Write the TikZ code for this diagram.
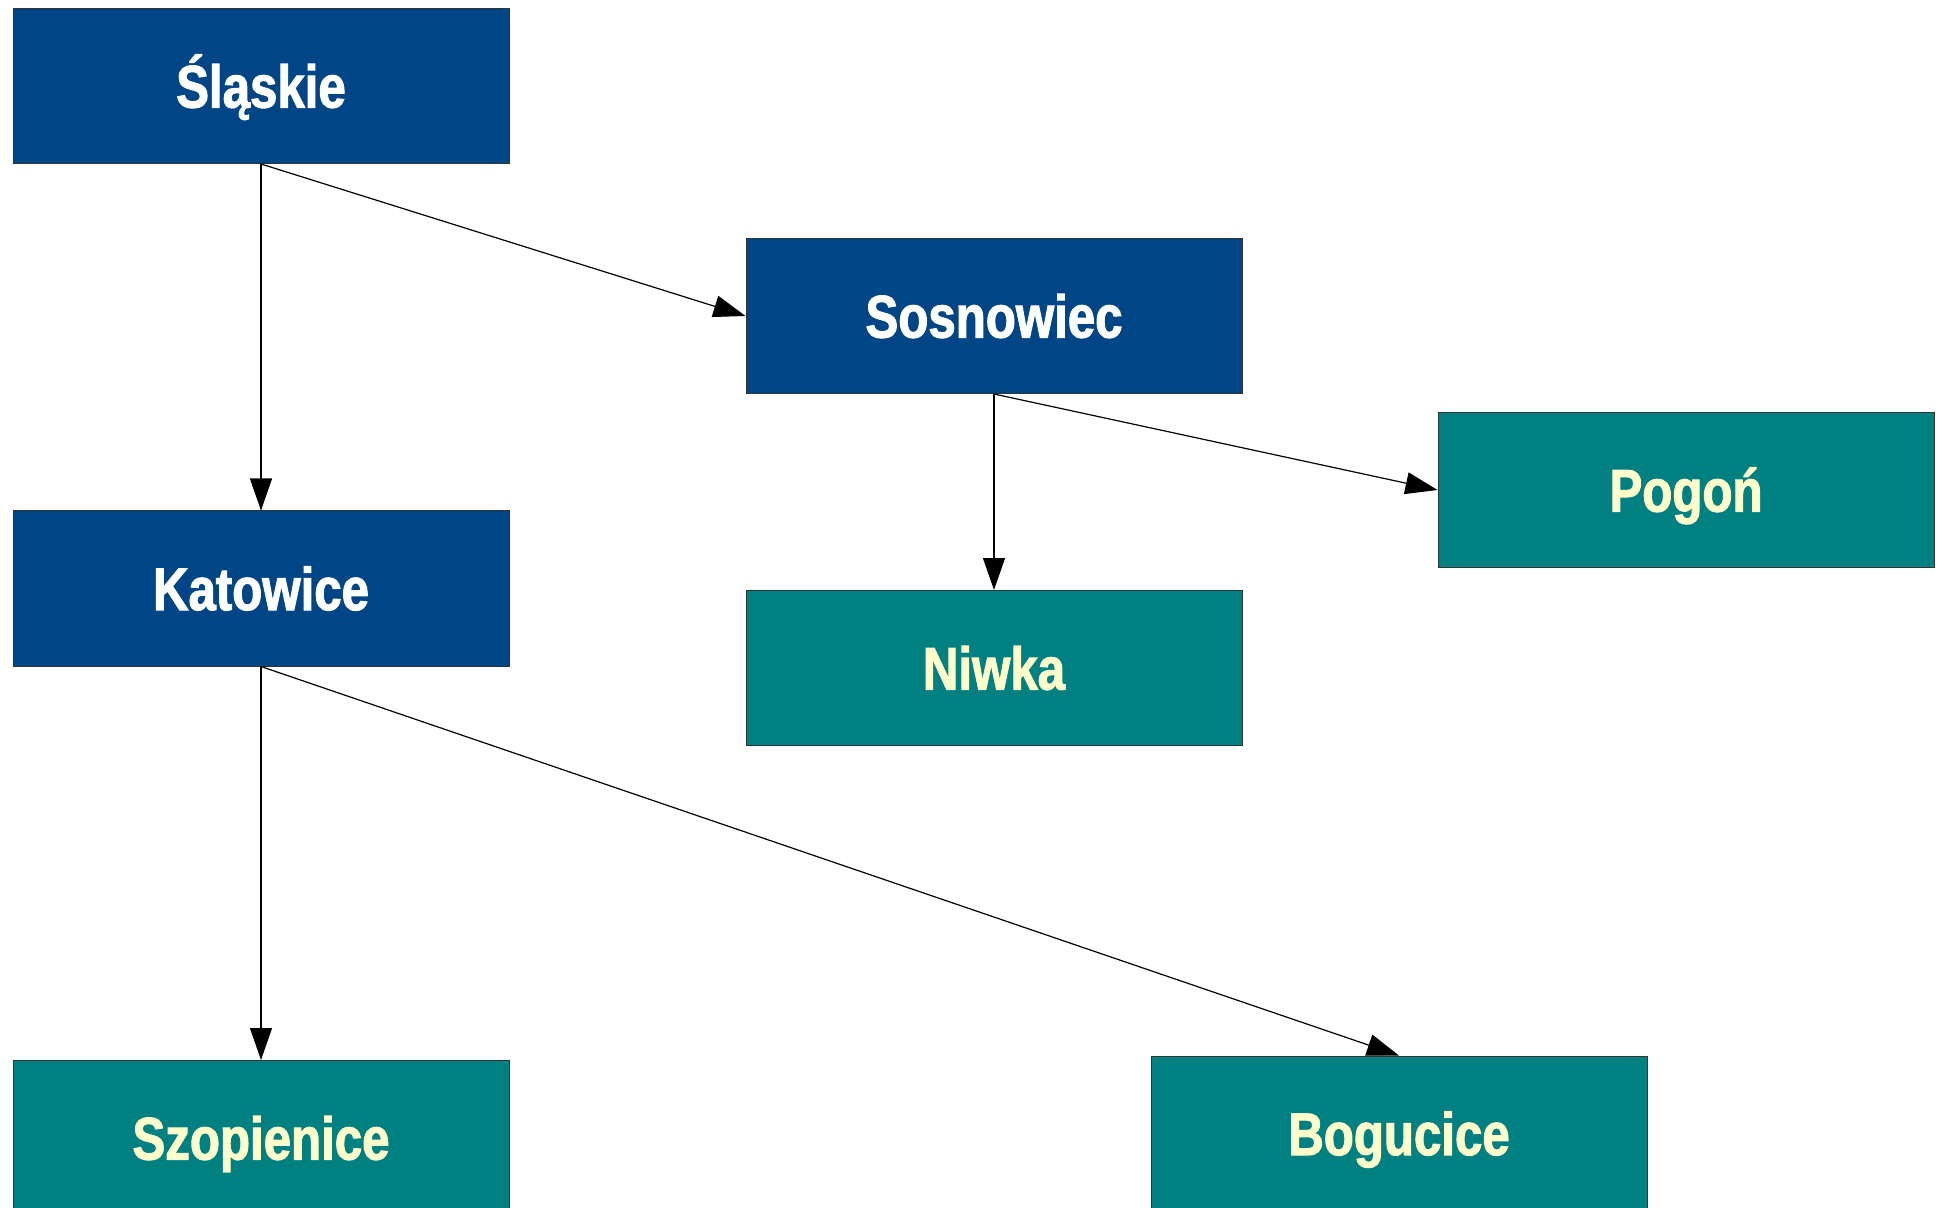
\documentclass[tikz,border=0pt]{standalone}
\usepackage{fontspec}
\setmainfont{Liberation Sans}[FakeStretch=0.82,BoldFeatures={FakeBold=1.8}]
\usetikzlibrary{arrows.meta}
\definecolor{darkblue}{RGB}{0,69,134}
\definecolor{tealbox}{RGB}{0,128,128}
\definecolor{paleyellow}{RGB}{255,255,204}
\begin{document}
\begin{tikzpicture}[x=0.5pt,y=-0.5pt,
  box/.style={draw=black!80,line width=0.5pt,minimum width=248pt,minimum height=77.5pt,inner sep=0pt,text height=21.5pt,text depth=0pt,font=\fontsize{30}{30}\selectfont\bfseries},
  bluebox/.style={box,fill=darkblue,text=white},
  tbox/.style={box,fill=tealbox,text=paleyellow},
  conn/.style={draw=black,line width=0.6pt,-{Triangle[length=16pt,width=11pt]}}]
\useasboundingbox (0,0) rectangle (1944,1208);
\begin{scope}
\clip (0,0) rectangle (1944,1208);
\node[bluebox] (sl) at (261,86) {Śląskie};
\node[bluebox] (so) at (994,316) {Sosnowiec};
\node[tbox] (po) at (1686,490) {Pogoń};
\node[bluebox] (ka) at (261,588.5) {Katowice};
\node[tbox] (ni) at (994,668) {Niwka};
\node[tbox] (sz) at (261,1138) {Szopienice};
\node[tbox] (bo) at (1399,1133.5) {Bogucice};
\draw[conn] (sl.south) -- (ka.north);
\draw[conn] (sl.south) -- (so.west);
\draw[conn] (so.south) -- (ni.north);
\draw[conn] (so.south) -- (po.west);
\draw[conn] (ka.south) -- (sz.north);
\draw[conn] (ka.south) -- (bo.north);
\end{scope}
\end{tikzpicture}
\end{document}
